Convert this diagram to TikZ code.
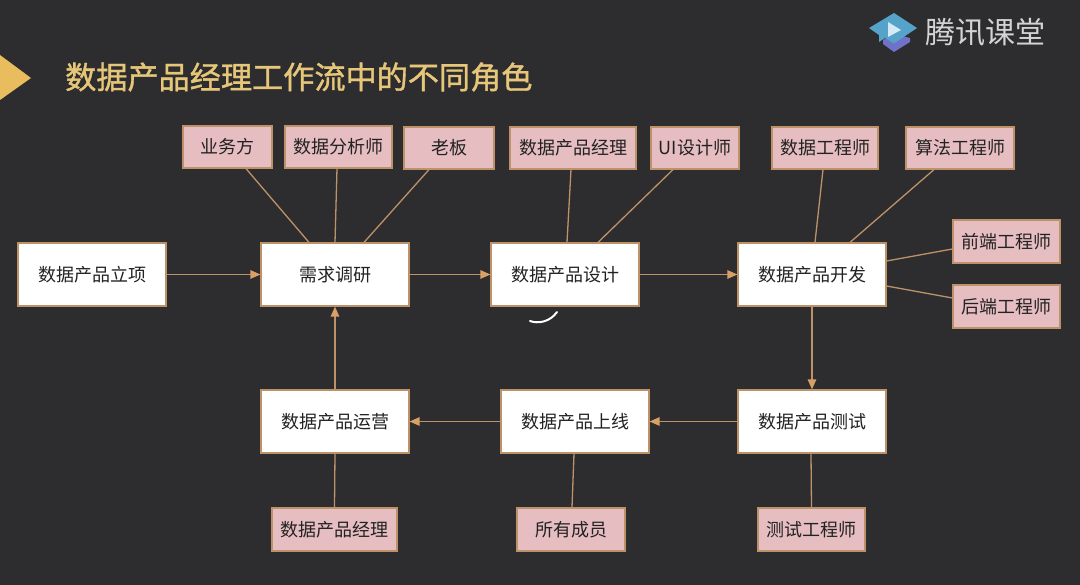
\documentclass[tikz,border=0pt]{standalone}
\usepackage{fontspec}
\setmainfont{Noto Sans CJK SC}
\newfontfamily\titlefont[FakeBold=1.2]{Noto Sans CJK SC}
\usetikzlibrary{arrows.meta}
\definecolor{bgc}{HTML}{2D2D2F}
\definecolor{linec}{HTML}{BE9268}
\definecolor{headc}{HTML}{D9A066}
\definecolor{pinkc}{HTML}{E6BDC0}
\definecolor{titlec}{HTML}{E6C678}
\definecolor{tric}{HTML}{E9BC5E}
\definecolor{textc}{HTML}{222222}
\definecolor{logoa}{HTML}{6F72C8}
\definecolor{logob}{HTML}{55A3C9}
\definecolor{logoc}{HTML}{D5EAF5}
\definecolor{logot}{HTML}{D4D4D4}
\tikzset{
  stagebox/.style={draw=linec,line width=1.2pt,fill=white,text=textc,minimum width=148pt,minimum height=63pt,inner sep=0pt,font=\fontsize{18}{18}\selectfont},
  rolebox/.style={draw=linec,line width=1.2pt,fill=pinkc,text=textc,minimum height=42pt,inner sep=0pt,font=\fontsize{18}{18}\selectfont},
  flow/.style={draw=linec,line width=1.3pt,-{Triangle[length=10pt,width=8.5pt,color=headc]}},
  tie/.style={draw=linec,line width=1.3pt}
}
\begin{document}
\begin{tikzpicture}[x=1pt,y=-1pt]
\useasboundingbox (0,0) rectangle (1080,585);
\fill[bgc] (0,0) rectangle (1080,585);
% title
\fill[tric] (0,55) -- (31,78) -- (0,100) -- cycle;
\node[anchor=west,inner sep=0pt,text=titlec,font=\fontsize{31.15}{31.15}\selectfont\titlefont] (title) at (65,77) {数据产品经理工作流中的不同角色};
% logo
\fill[logoa] (883,44) -- (883,40) -- (894,34) -- (910,38) -- (910,42) -- (894,52) -- cycle;
\fill[logob] (894,13) -- (917,28) -- (894,43.5) -- (885,38) -- (879,42) -- (879,35) -- (869,28) -- cycle;
\fill[logoc] (888,22) -- (901,30) -- (888,37) -- cycle;
\node[anchor=west,inner sep=0pt,text=logot,font=\fontsize{30}{30}\selectfont] (logo) at (925,32) {腾讯课堂};
% stages
\node[stagebox] (a) at (92,274.5) {数据产品立项};
\node[stagebox] (b) at (335,274.5) {需求调研};
\node[stagebox] (c) at (565,274.5) {数据产品设计};
\node[stagebox] (d) at (812,274.5) {数据产品开发};
\node[stagebox] (e) at (812,421.5) {数据产品测试};
\node[stagebox] (f) at (575,421.5) {数据产品上线};
\node[stagebox] (g) at (335,421.5) {数据产品运营};
% roles
\node[rolebox,minimum width=89pt] (r1) at (227.5,147) {业务方};
\node[rolebox,minimum width=107pt] (r2) at (338.5,147) {数据分析师};
\node[rolebox,minimum width=90pt] (r3) at (449,148) {老板};
\node[rolebox,minimum width=126pt] (r4) at (573,148) {数据产品经理};
\node[rolebox,minimum width=88pt] (r5) at (695,148) {UI设计师};
\node[rolebox,minimum width=106pt] (r6) at (825,148) {数据工程师};
\node[rolebox,minimum width=108pt] (r7) at (960,148) {算法工程师};
\node[rolebox,minimum width=107pt,minimum height=43pt] (r8) at (1006.5,241.5) {前端工程师};
\node[rolebox,minimum width=107pt,minimum height=43pt] (r9) at (1006.5,306.5) {后端工程师};
\node[rolebox,minimum width=125pt,minimum height=43pt] (r10) at (334.5,529.5) {数据产品经理};
\node[rolebox,minimum width=108pt,minimum height=43pt] (r11) at (571,529.5) {所有成员};
\node[rolebox,minimum width=107pt,minimum height=43pt] (r12) at (811.5,529.5) {测试工程师};
% flow
\draw[flow] (a) -- (b);
\draw[flow] (b) -- (c);
\draw[flow] (c) -- (d);
\draw[flow] (d) -- (e);
\draw[flow] (e) -- (f);
\draw[flow] (f) -- (g);
\draw[flow] (g) -- (b);
% role ties
\draw[tie] ([xshift=18.5pt]r1.south) -- ([xshift=-26pt]b.north);
\draw[tie] ([xshift=-1.5pt]r2.south) -- (b.north);
\draw[tie] ([xshift=-20pt]r3.south) -- ([xshift=29pt]b.north);
\draw[tie] ([xshift=-2pt]r4.south) -- ([xshift=2pt]c.north);
\draw[tie] ([xshift=-22pt]r5.south) -- ([xshift=33pt]c.north);
\draw[tie] ([xshift=-2pt]r6.south) -- ([xshift=3pt]d.north);
\draw[tie] ([xshift=-26pt]r7.south) -- ([xshift=38pt]d.north);
\draw[tie] ([yshift=-7.5pt]r8.west) -- ([yshift=13.5pt]d.east);
\draw[tie] ([yshift=8.5pt]r9.west) -- ([yshift=-11.5pt]d.east);
\draw[tie] (r10.north) -- (g.south);
\draw[tie] ([xshift=1pt]r11.north) -- ([xshift=-1pt]f.south);
\draw[tie] (r12.north) -- ([xshift=-1pt]e.south);
% loading spinner
\draw[white,line width=2pt,line cap=round] (530,321) .. controls (538,324) and (550,322) .. (557,312);
\end{tikzpicture}
\end{document}
